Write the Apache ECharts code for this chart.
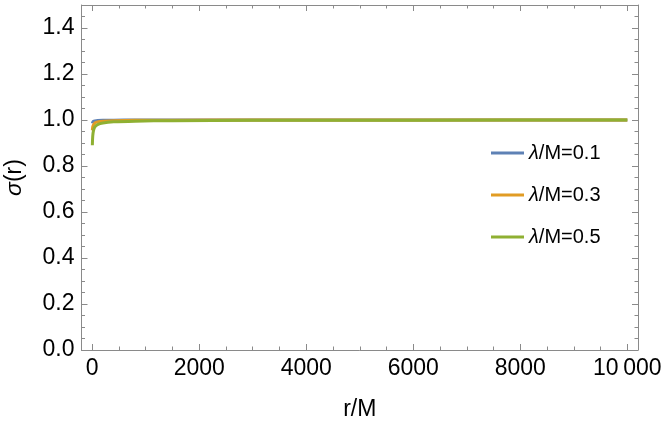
<!DOCTYPE html>
<html>
<head>
<meta charset="utf-8">
<script src="https://cdn.jsdelivr.net/npm/echarts@6/dist/echarts.min.js"></script>
<style>
html,body{margin:0;padding:0;background:#fff;}
#c{width:664px;height:425px;}
</style>
</head>
<body>
<div id="c"></div>
<script>
// r/M sample points
const rValues = [3, 10, 25, 50, 100, 200, 400, 800, 1500, 3000, 6000, 10000];
// sigma(r) for each lambda/M
const sigma01 = [0.985, 0.99, 0.994, 0.996, 0.998, 0.999, 0.9993, 0.9996, 0.9998, 0.9999, 0.99995, 1.0];
const sigma03 = [0.955, 0.97, 0.98, 0.987, 0.992, 0.995, 0.997, 0.9985, 0.9992, 0.9996, 0.9998, 1.0];
const sigma05 = [0.89, 0.93, 0.955, 0.97, 0.98, 0.987, 0.992, 0.995, 0.997, 0.9985, 0.9993, 1.0];
const seriesNames = ['λ/M=0.1', 'λ/M=0.3', 'λ/M=0.5'];
const xMajor = [0, 2000, 4000, 6000, 8000, 10000];
const xMinor = [500, 1000, 1500, 2500, 3000, 3500, 4500, 5000, 5500, 6500, 7000, 7500, 8500, 9000, 9500];
const yMajor = [0, 0.2, 0.4, 0.6, 0.8, 1.0, 1.2, 1.4];
const yMinor = [0.05, 0.1, 0.15, 0.25, 0.3, 0.35, 0.45, 0.5, 0.55, 0.65, 0.7, 0.75, 0.85, 0.9, 0.95, 1.05, 1.1, 1.15, 1.25, 1.3, 1.35, 1.45, 1.5];

const colors = ['#5E81B5', '#E19C24', '#8FB032'];
const frame = '#8a8a8a';
const font = 'Liberation Sans, Arial, sans-serif';

function pairs(ys){ return rValues.map((r,i)=>[r, ys[i]]); }

function mkAxis(pos, min, max, ticks, len, opts){
  return Object.assign({
    type:'value', position:pos, min:min, max:max, offset:0,
    axisLine:{show:true, onZero:false, lineStyle:{color:frame, width:1}},
    axisTick:{show:true, inside:true, length:len, customValues:ticks, lineStyle:{color:frame, width:1}},
    axisLabel:{show:false},
    splitLine:{show:false}
  }, opts||{});
}

const xAxes = [
  mkAxis('bottom', -200, 10200, xMajor, 6, {
    axisLabel:{show:true, customValues:xMajor, color:'#000', fontSize:23, fontFamily:font, margin:7,
      formatter:v => v===10000 ? '10\u2009000' : String(v)},
    name:'r/M', nameLocation:'middle', nameGap:48,
    nameTextStyle:{color:'#000', fontSize:23, fontFamily:font}
  }),
  mkAxis('bottom', -200, 10200, xMinor, 3.5, {axisLine:{show:false, onZero:false}}),
  mkAxis('top', -200, 10200, xMajor, 6),
  mkAxis('top', -200, 10200, xMinor, 3.5, {axisLine:{show:false, onZero:false}})
];
const yAxes = [
  mkAxis('left', 0, 1.5, yMajor, 6, {
    axisLabel:{show:true, customValues:yMajor, color:'#000', fontSize:23, fontFamily:font, margin:7,
      formatter:v => v.toFixed(1)},
    name:'{i|σ}(r)', nameLocation:'middle', nameGap:55, nameRotate:90,
    nameTextStyle:{color:'#000', fontSize:23, fontFamily:font,
      rich:{i:{fontStyle:'italic', fontSize:23, fontFamily:font, color:'#000'}}}
  }),
  mkAxis('left', 0, 1.5, yMinor, 3.5, {axisLine:{show:false, onZero:false}}),
  mkAxis('right', 0, 1.5, yMajor, 6),
  mkAxis('right', 0, 1.5, yMinor, 3.5, {axisLine:{show:false, onZero:false}})
];

const allSigma = [sigma01, sigma03, sigma05];
const chart = echarts.init(document.getElementById('c'), null, {renderer:'canvas'});
chart.setOption({
  animation:false,
  backgroundColor:'#fff',
  grid:{left:81.5, right:26, top:5, bottom:75, containLabel:false, outerBoundsMode:'none'},
  xAxis:xAxes,
  yAxis:yAxes,
  legend:{
    data:seriesNames,
    orient:'vertical', left:486, top:138,
    icon:'rect', itemWidth:33, itemHeight:3, itemGap:22,
    textStyle:{color:'#000', fontSize:20, fontFamily:font, lineHeight:20,
      rich:{i:{fontStyle:'italic', fontSize:20, fontFamily:font}}},
    formatter: n => n.replace('λ','{i|λ}')
  },
  series: seriesNames.map((n,i)=>({
    name:n, type:'line', xAxisIndex:0, yAxisIndex:0,
    data:pairs(allSigma[i]), smooth:0.3, showSymbol:false, symbol:'none',
    lineStyle:{color:colors[i], width:3}, itemStyle:{color:colors[i]}
  }))
});
</script>
</body>
</html>
